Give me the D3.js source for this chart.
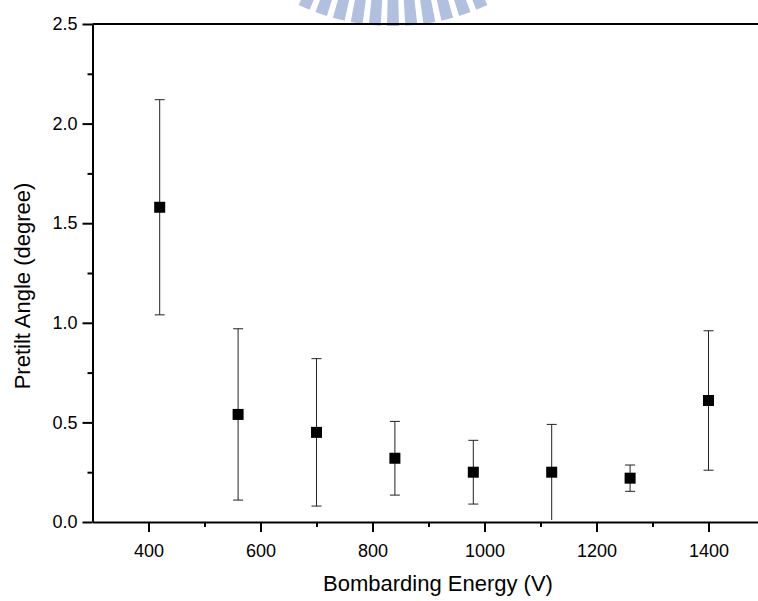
<!DOCTYPE html>
<html>
<head>
<meta charset="utf-8">
<script src="https://cdn.jsdelivr.net/npm/d3@7"></script>
<style>
  body { margin: 0; background: #fff; }
  text { font-family: "Liberation Sans", Arial, sans-serif; }
</style>
</head>
<body>
<svg id="chart" width="758" height="601"></svg>
<script>
// data
var energy = [420, 560, 700, 840, 980, 1120, 1260, 1400];
var pretilt = [1.58, 0.54, 0.45, 0.32, 0.25, 0.25, 0.22, 0.61];
var error = [0.54, 0.43, 0.37, 0.185, 0.16, 0.24, 0.066, 0.35];

var xMajor = [400, 600, 800, 1000, 1200, 1400];
var xMinor = [500, 700, 900, 1100, 1300, 1500];
var yMajor = [0, 0.5, 1.0, 1.5, 2.0, 2.5];
var yMinor = [0.25, 0.75, 1.25, 1.75, 2.25];

var svg = d3.select("#chart");

// scales
var x = d3.scaleLinear().domain([300, 1500]).range([92.5, 764.5]);
var y = d3.scaleLinear().domain([0, 2.5]).range([522, 24]);

// faded logo watermark at the top
var arc = d3.arc().innerRadius(180).outerRadius(223);
var wedges = d3.range(-5, 6);
svg.append("g")
  .attr("transform", "translate(393,-197)")
  .selectAll("path")
  .data(wedges)
  .enter()
  .append("path")
  .attr("d", function (k) {
    var a = Math.PI - k * 0.082;
    return arc({ startAngle: a - 0.027, endAngle: a + 0.027 });
  })
  .attr("fill", "#b1c0df");

// top frame line
svg.append("line")
  .attr("x1", x(300)).attr("x2", x(1500))
  .attr("y1", y(2.5)).attr("y2", y(2.5))
  .attr("stroke", "#000").attr("stroke-width", 2);

// x axis
svg.append("g")
  .attr("transform", "translate(0," + y(0) + ")")
  .call(d3.axisBottom(x).tickValues(xMinor).tickSize(5).tickFormat(""))
  .call(function (g) { g.select(".domain").remove(); });

var xa = svg.append("g")
  .attr("transform", "translate(0," + y(0) + ")")
  .call(d3.axisBottom(x).tickValues(xMajor).tickSize(10).tickSizeOuter(0).tickPadding(12)
    .tickFormat(d3.format("d")));
xa.selectAll("text").attr("font-size", 18).attr("fill", "#000");

// y axis
svg.append("g")
  .attr("transform", "translate(" + x(300) + ",0)")
  .call(d3.axisLeft(y).tickValues(yMinor).tickSize(5).tickFormat(""))
  .call(function (g) { g.select(".domain").remove(); });

var ya = svg.append("g")
  .attr("transform", "translate(" + x(300) + ",0)")
  .call(d3.axisLeft(y).tickValues(yMajor).tickSize(10).tickSizeOuter(0).tickPadding(5)
    .tickFormat(d3.format(".1f")));
ya.selectAll("text").attr("font-size", 18).attr("fill", "#000");

svg.selectAll(".domain, .tick line")
  .attr("stroke", "#000")
  .attr("stroke-width", 2);
svg.selectAll(".tick text").attr("font-family", "Liberation Sans, Arial, sans-serif");

// error bars
var bars = svg.append("g")
  .selectAll("g")
  .data(energy)
  .enter()
  .append("g");

bars.append("line")
  .attr("x1", function (d) { return x(d); })
  .attr("x2", function (d) { return x(d); })
  .attr("y1", function (d, i) { return y(pretilt[i] + error[i]); })
  .attr("y2", function (d, i) { return y(Math.max(0, pretilt[i] - error[i])); })
  .attr("stroke", "#222").attr("stroke-width", 1);

bars.append("line")
  .attr("x1", function (d) { return x(d) - 5; })
  .attr("x2", function (d) { return x(d) + 5; })
  .attr("y1", function (d, i) { return y(pretilt[i] + error[i]); })
  .attr("y2", function (d, i) { return y(pretilt[i] + error[i]); })
  .attr("stroke", "#222").attr("stroke-width", 1);

bars.filter(function (d, i) { return pretilt[i] - error[i] > 0.02; })
  .append("line")
  .attr("x1", function (d) { return x(d) - 5; })
  .attr("x2", function (d) { return x(d) + 5; })
  .attr("y1", function (d) { var i = energy.indexOf(d); return y(pretilt[i] - error[i]); })
  .attr("y2", function (d) { var i = energy.indexOf(d); return y(pretilt[i] - error[i]); })
  .attr("stroke", "#222").attr("stroke-width", 1);

// square markers
bars.append("rect")
  .attr("x", function (d) { return x(d) - 5.5; })
  .attr("y", function (d, i) { return y(pretilt[i]) - 5.5; })
  .attr("width", 11)
  .attr("height", 11)
  .attr("fill", "#000");

// axis titles
svg.append("text")
  .attr("x", 438)
  .attr("y", 591)
  .attr("text-anchor", "middle")
  .attr("font-size", 22)
  .text("Bombarding Energy (V)");

svg.append("text")
  .attr("transform", "translate(30,286) rotate(-90)")
  .attr("text-anchor", "middle")
  .attr("font-size", 22)
  .text("Pretilt Angle (degree)");
</script>
</body>
</html>
